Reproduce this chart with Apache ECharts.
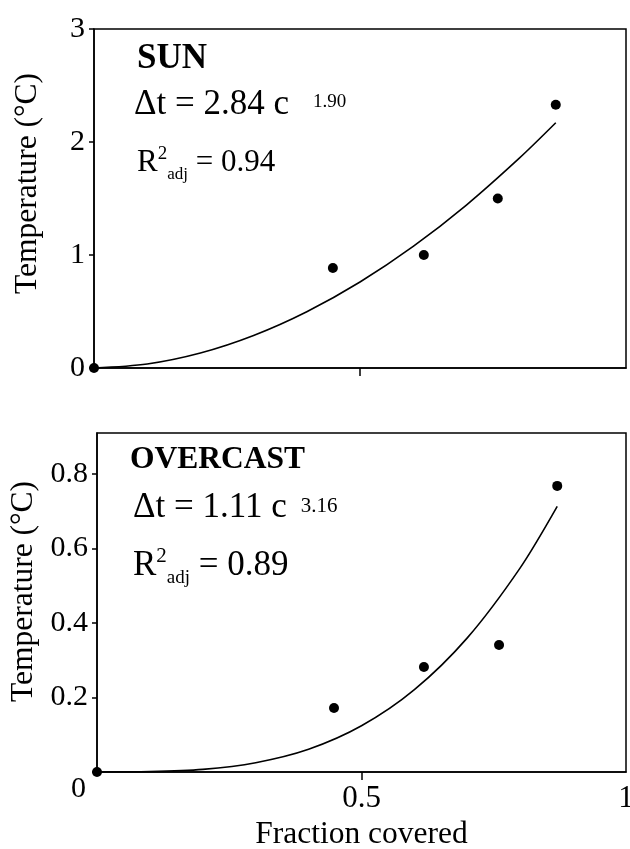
<!DOCTYPE html>
<html>
<head>
<meta charset="utf-8">
<script src="https://cdn.jsdelivr.net/npm/echarts@6/dist/echarts.min.js"></script>
<style>
  html, body { margin: 0; padding: 0; background: #fff; }
  #main { width: 630px; height: 849px; }
</style>
</head>
<body>
<div id="main"></div>
<script>
// measured points, fraction covered vs temperature rise
const sunCover = [0, 0.449, 0.620, 0.759, 0.868];
const sunTemp = [0, 0.885, 1.0, 1.50, 2.33];
const overCover = [0, 0.448, 0.618, 0.760, 0.870];
const overTemp = [0, 0.172, 0.282, 0.341, 0.768];

// fitted curves
const sunFitCover = [0, 0.1, 0.2, 0.3, 0.4, 0.5, 0.6, 0.7, 0.8, 0.868];
const sunFitTemp = [0, 0.036, 0.133, 0.288, 0.498, 0.761, 1.076, 1.442, 1.859, 2.17];
const overFitCover = [0, 0.1, 0.2, 0.3, 0.4, 0.5, 0.6, 0.7, 0.8, 0.87];
const overFitTemp = [0, 0.001, 0.007, 0.025, 0.061, 0.124, 0.221, 0.360, 0.548, 0.713];

const sunTicks = [0, 1, 2, 3];
const overTicks = [0, 0.2, 0.4, 0.6, 0.8];
const xTickLabels = [0.5, 1];

const FONT = '"Liberation Serif", "Times New Roman", serif';
const zip = (xs, ys) => xs.map((x, i) => [x, ys[i]]);

const chart = echarts.init(document.getElementById('main'));

const axisLine = { lineStyle: { color: '#000', width: 1.5 } };
const tick = { show: true, inside: false, length: 5, lineStyle: { color: '#000', width: 1.5 } };
const yLabel = { color: '#000', fontFamily: FONT, fontSize: 30, margin: 9 };

const option = {
  animation: false,
  backgroundColor: '#fff',
  grid: [
    { left: 94, top: 29, width: 532, height: 339, show: true, borderColor: '#000', borderWidth: 1.5, outerBoundsMode: 'none' },
    { left: 97, top: 433, width: 529, height: 339, show: true, borderColor: '#000', borderWidth: 1.5, outerBoundsMode: 'none' }
  ],
  xAxis: [
    {
      gridIndex: 0, type: 'value', min: 0, max: 1, interval: 0.5,
      axisLine: axisLine,
      axisTick: Object.assign({}, tick, { length: 8, customValues: [0.5] }),
      axisLabel: { show: false },
      splitLine: { show: false }
    },
    {
      gridIndex: 1, type: 'value', min: 0, max: 1, interval: 0.5,
      axisLine: axisLine,
      axisTick: Object.assign({}, tick, { length: 8, customValues: [0.5] }),
      axisLabel: { color: '#000', fontFamily: FONT, fontSize: 31, margin: 11, customValues: xTickLabels },
      splitLine: { show: false },
      name: 'Fraction covered', nameLocation: 'middle', nameGap: 47,
      nameTextStyle: { color: '#000', fontFamily: FONT, fontSize: 31.5 }
    }
  ],
  yAxis: [
    {
      gridIndex: 0, type: 'value', min: 0, max: 3, interval: 1,
      axisLine: axisLine,
      axisTick: Object.assign({}, tick, { customValues: sunTicks }),
      axisLabel: Object.assign({}, yLabel, { customValues: sunTicks }),
      splitLine: { show: false },
      name: 'Temperature (°C)', nameLocation: 'middle', nameGap: 50,
      nameTextStyle: { color: '#000', fontFamily: FONT, fontSize: 31.5, padding: [0, 0, 0, 30] }
    },
    {
      gridIndex: 1, type: 'value', min: 0, max: 0.91, interval: 0.2,
      axisLine: axisLine,
      axisTick: Object.assign({}, tick, { customValues: overTicks }),
      axisLabel: Object.assign({}, yLabel, {
        customValues: overTicks,
        formatter: v => (v === 0 ? '{z|0}' : String(v)),
        rich: { z: { fontFamily: FONT, fontSize: 30, color: '#000', padding: [34, 2, 0, 0] } }
      }),
      splitLine: { show: false },
      name: 'Temperature (°C)', nameLocation: 'middle', nameGap: 53,
      nameTextStyle: { color: '#000', fontFamily: FONT, fontSize: 31.5, padding: [0, 0, 0, 22] }
    }
  ],
  graphic: [
    { type: 'text', left: 137, top: 41, style: { text: 'SUN', font: 'bold 35px ' + FONT, fill: '#000' } },
    {
      type: 'text', left: 134, top: 84,
      style: {
        text: '{m|Δt = 2.84 c}{s|1.90}',
        rich: {
          m: { fontFamily: FONT, fontSize: 35, lineHeight: 38, verticalAlign: 'bottom' },
          s: { fontFamily: FONT, fontSize: 19, lineHeight: 19, verticalAlign: 'top', padding: [9, 0, 0, 24] }
        }
      }
    },
    {
      type: 'text', left: 137, top: 145,
      style: {
        text: '{m|R}{s|2}{b|adj}{m| = 0.94}',
        rich: {
          m: { fontFamily: FONT, fontSize: 31, lineHeight: 40, verticalAlign: 'middle' },
          s: { fontFamily: FONT, fontSize: 19, verticalAlign: 'top', padding: [2, 0, 0, 0] },
          b: { fontFamily: FONT, fontSize: 17, verticalAlign: 'bottom' }
        }
      }
    },
    { type: 'text', left: 130, top: 444, style: { text: 'OVERCAST', font: 'bold 31.5px ' + FONT, fill: '#000' } },
    {
      type: 'text', left: 133, top: 487,
      style: {
        text: '{m|Δt = 1.11 c}{s|3.16}',
        rich: {
          m: { fontFamily: FONT, fontSize: 35, lineHeight: 38, verticalAlign: 'bottom' },
          s: { fontFamily: FONT, fontSize: 21, lineHeight: 21, verticalAlign: 'top', padding: [9, 0, 0, 14] }
        }
      }
    },
    {
      type: 'text', left: 133, top: 546,
      style: {
        text: '{m|R}{s|2}{b|adj}{m| = 0.89}',
        rich: {
          m: { fontFamily: FONT, fontSize: 35, lineHeight: 44, verticalAlign: 'middle' },
          s: { fontFamily: FONT, fontSize: 21, verticalAlign: 'top', padding: [2, 0, 0, 0] },
          b: { fontFamily: FONT, fontSize: 19, verticalAlign: 'bottom' }
        }
      }
    }
  ],
  series: [
    {
      type: 'line', xAxisIndex: 0, yAxisIndex: 0, data: zip(sunFitCover, sunFitTemp),
      smooth: 0.3, showSymbol: false, lineStyle: { color: '#000', width: 1.6 }, z: 2
    },
    {
      type: 'scatter', xAxisIndex: 0, yAxisIndex: 0, data: zip(sunCover, sunTemp),
      symbolSize: 10, itemStyle: { color: '#000', opacity: 1 }, clip: false, z: 3
    },
    {
      type: 'line', xAxisIndex: 1, yAxisIndex: 1, data: zip(overFitCover, overFitTemp),
      smooth: 0.3, showSymbol: false, lineStyle: { color: '#000', width: 1.6 }, z: 2
    },
    {
      type: 'scatter', xAxisIndex: 1, yAxisIndex: 1, data: zip(overCover, overTemp),
      symbolSize: 10, itemStyle: { color: '#000', opacity: 1 }, clip: false, z: 3
    }
  ]
};

chart.setOption(option);
</script>
</body>
</html>
